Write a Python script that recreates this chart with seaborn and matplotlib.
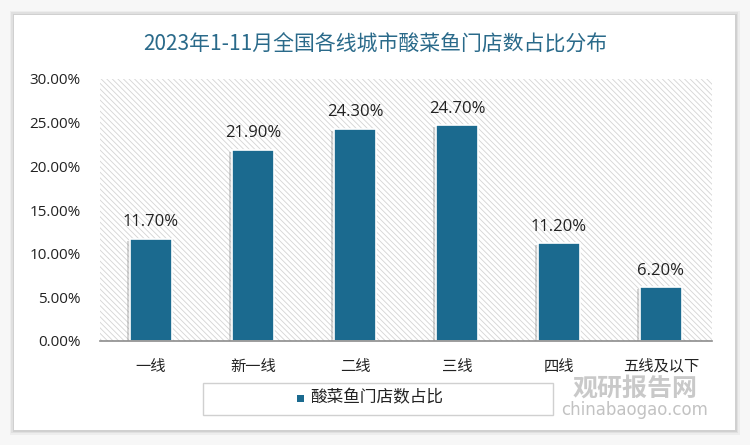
import matplotlib
matplotlib.use("Agg")
import matplotlib.pyplot as plt
import matplotlib.patches as mpatches
import matplotlib.patheffects as pe
import seaborn as sns
import pandas as pd

categories = ["一线", "新一线", "二线", "三线", "四线", "五线及以下"]
values = [11.70, 21.90, 24.30, 24.70, 11.20, 6.20]
series_name = "酸菜鱼门店数占比"
title = "2023年1-11月全国各线城市酸菜鱼门店数占比分布"
yticks = [0, 5, 10, 15, 20, 25, 30]

sns.set_theme(style="white")
plt.rcParams['font.family'] = ['Noto Sans CJK SC', 'DejaVu Sans']
plt.rcParams['hatch.linewidth'] = 0.6
plt.rcParams['hatch.color'] = '#d4d4d4'

df = pd.DataFrame({"cat": categories, "val": [v / 100 for v in values]})

fig = plt.figure(figsize=(7.5, 4.45), dpi=100)
fig.patch.set_facecolor('#f7f7f7')

# card with soft shadow
for i, a in enumerate([0.04, 0.05, 0.07]):
    off = (3 - i) * 1.5
    fig.patches.append(mpatches.Rectangle((14 / 750 - off / 750, 15 / 445 - off / 445),
                                          (721 + 2 * off) / 750, (415 + 2 * off) / 445,
                                          transform=fig.transFigure, facecolor='black',
                                          alpha=a, edgecolor='none', zorder=-3))
fig.patches.append(mpatches.Rectangle((14 / 750, 15 / 445), 721 / 750, 415 / 445,
                                      transform=fig.transFigure, facecolor='white',
                                      edgecolor='none', zorder=-2))

ax = fig.add_axes([100 / 750, 1 - 341 / 445, 612 / 750, 262 / 445])
ax.set_zorder(2)
ax.set_facecolor('none')
ax.add_patch(mpatches.Rectangle((0, 0), 1, 1, transform=ax.transAxes, facecolor='white',
                                edgecolor='#d4d4d4', hatch='\\\\\\\\\\\\', linewidth=0, zorder=0))

sns.barplot(data=df, x="cat", y="val", color="#1b6a8f", saturation=1, width=0.42,
            ax=ax, zorder=2)
for p in ax.patches:
    if isinstance(p, mpatches.Rectangle) and p.get_hatch() is None:
        p.set_edgecolor('white')
        p.set_linewidth(1.2)
        p.set_path_effects([pe.SimplePatchShadow(offset=(-1.5, -1.5), shadow_rgbFace='#888888', alpha=0.35),
                            pe.Normal()])

ax.set_ylim(0, 0.30)
ax.set_yticks([t / 100 for t in yticks])
ax.set_yticklabels([f"{t:.2f}%" for t in yticks], fontsize=11, color='#222222',
                   family=['Open Sans', 'DejaVu Sans'])
ax.set_xticks(range(len(categories)))
ax.set_xticklabels(categories, fontsize=11, color='#222222')
ax.tick_params(axis='y', length=0, pad=14)
ax.tick_params(axis='x', length=0, pad=12)
ax.set_xlabel("")
ax.set_ylabel("")
for s in ['top', 'right', 'left']:
    ax.spines[s].set_visible(False)
ax.spines['bottom'].set_color('#8c8c8c')
ax.spines['bottom'].set_linewidth(1.2)
ax.spines['bottom'].set_zorder(3)

for i, v in enumerate(values):
    ax.annotate(f"{v:.2f}%", (i, v / 100), xytext=(0, 6), textcoords='offset points',
                ha='center', va='bottom', fontsize=12, color='#222222',
                family=['Open Sans', 'DejaVu Sans'])

fig.text(375 / 750, 1 - 45 / 445, title, ha='center', va='center', fontsize=15,
         color='#2a6a8a')

# legend box
fig.patches.append(mpatches.Rectangle((203 / 750, 1 - 415 / 445), 350 / 750, 32 / 445,
                                      transform=fig.transFigure, facecolor='white',
                                      edgecolor='#d0d0d0', linewidth=1, zorder=1))
fig.patches.append(mpatches.Rectangle((297 / 750, 1 - 402 / 445), 7 / 750, 7 / 445,
                                      transform=fig.transFigure, facecolor='#1b6a8f',
                                      edgecolor='none', zorder=2))
fig.text(310 / 750, 1 - 398 / 445, series_name, ha='left', va='center', fontsize=12,
         color='#222222')

# watermark
fig.text(635 / 750, 1 - 389 / 445, "观研报告网", ha='center', va='center', fontsize=18,
         fontweight='bold', color='#bcbcbc', alpha=0.8)
fig.text(635 / 750, 1 - 410 / 445, "chinabaogao.com", ha='center', va='center', fontsize=12,
         color='#bcbcbc', alpha=0.9, family=['DejaVu Sans'])

fig.savefig("out.png", dpi=100)
